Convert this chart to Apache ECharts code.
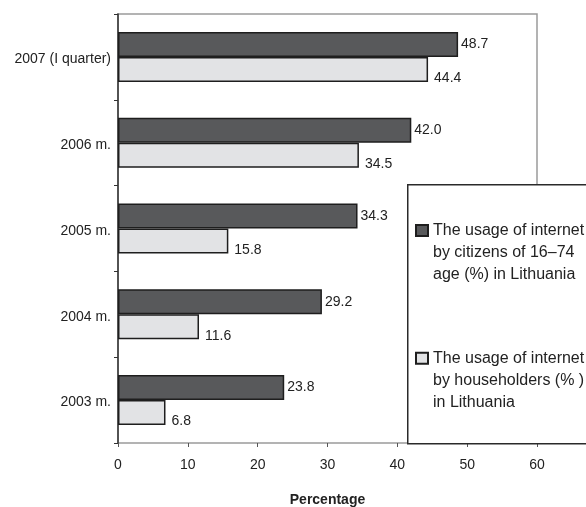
<!DOCTYPE html>
<html>
<head>
<meta charset="utf-8">
<script src="https://cdn.jsdelivr.net/npm/echarts@6/dist/echarts.min.js"></script>
<style>
  html, body { margin: 0; padding: 0; background: #fff; }
  #main { width: 586px; height: 507px; }
</style>
</head>
<body>
<div id="main"></div>
<script>
var categories = ['2007 (I quarter)', '2006 m.', '2005 m.', '2004 m.', '2003 m.'];
var citizens = [48.7, 42.0, 34.3, 29.2, 23.8];
var householders = [44.4, 34.5, 15.8, 11.6, 6.8];
var seriesNames = [
  'The usage of internet\nby citizens of 16\u201374\nage (%) in Lithuania',
  'The usage of internet\nby householders (% )\nin Lithuania'
];
var xTicks = { min: 0, max: 60, interval: 10 };

var font = '"Liberation Sans", Arial, sans-serif';

var option = {
  animation: false,
  textStyle: { fontFamily: font },
  grid: {
    left: 118,
    right: 49,
    top: 14,
    bottom: 64,
    outerBoundsMode: 'none',
    containLabel: false,
    show: true,
    borderColor: '#9a9a9a',
    borderWidth: 1.5,
  },
  // legend frame (white box that covers the plot corner)
  graphic: [{
    type: 'rect',
    left: 407,
    top: 184,
    z: 5,
    shape: { width: 200, height: 259 },
    style: { fill: '#fff', stroke: '#2a2a2a', lineWidth: 1.5 },
  }],
  legend: {
    z: 10,
    orient: 'vertical',
    left: 415,
    top: 175.5,
    padding: 0,
    icon: 'rect',
    itemWidth: 12,
    itemHeight: 11,
    itemGap: 17.8,
    data: seriesNames,
    // two empty lines first so the icon sits next to the first text line
    formatter: function (name) { return '\n\n' + name; },
    textStyle: {
      fontSize: 16,
      lineHeight: 22,
      color: '#222',
    },
  },
  xAxis: {
    type: 'value',
    min: xTicks.min,
    max: xTicks.max,
    interval: xTicks.interval,
    name: 'Percentage',
    nameLocation: 'middle',
    nameGap: 50,
    nameTextStyle: { fontSize: 14, fontWeight: 'bold', color: '#222' },
    splitLine: { show: false },
    axisLine: { lineStyle: { color: '#555', width: 2.5 } },
    axisTick: { show: true, length: 4, lineStyle: { color: '#555' } },
    axisLabel: { fontSize: 14, color: '#222', margin: 15 },
  },
  yAxis: {
    type: 'category',
    data: categories,
    inverse: true,
    axisLine: { lineStyle: { color: '#333', width: 1.5 } },
    axisTick: { show: true, length: 4, lineStyle: { color: '#333' } },
    axisLabel: { fontSize: 14, color: '#222', margin: 7, verticalAlign: 'top', lineHeight: 5 },
  },
  series: [
    {
      name: seriesNames[0],
      type: 'bar',
      data: citizens,
      barWidth: 25,
      barGap: '0%',
      itemStyle: { color: '#58595b', borderColor: '#1e1e1e', borderWidth: 1.5 },
      label: {
        show: true,
        position: 'right',
        distance: 3,
        fontSize: 14,
        color: '#222',
        formatter: function (p) { return p.value.toFixed(1); },
      },
    },
    {
      name: seriesNames[1],
      type: 'bar',
      data: householders,
      barWidth: 25,
      barGap: '0%',
      itemStyle: { color: '#e2e3e5', borderColor: '#1e1e1e', borderWidth: 1.5 },
      label: {
        show: true,
        position: 'right',
        distance: 4,
        offset: [2, 9],
        fontSize: 14,
        color: '#222',
        formatter: function (p) { return p.value.toFixed(1); },
      },
    },
  ],
};

var myChart = echarts.init(document.getElementById('main'));
myChart.setOption(option);
window.addEventListener('resize', function () {
  myChart.resize();
});
</script>
</body>
</html>
